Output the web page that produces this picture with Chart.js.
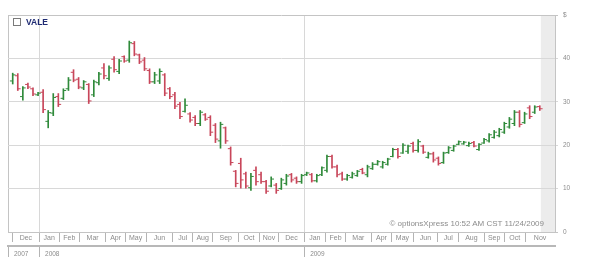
<!DOCTYPE html>
<html>
<head>
<meta charset="utf-8">
<script src="https://cdn.jsdelivr.net/npm/chart.js@4.4.1/dist/chart.umd.min.js"></script>
<style>
  body { margin: 0; background: #fff; }
  #wrap { position: relative; width: 600px; height: 263px; font-family: "Liberation Sans", Arial, sans-serif; }
  #title { position: absolute; left: 13px; top: 17px; line-height: 10px; font-size: 8.5px; font-weight: bold; color: #1f2b73; }
  #title span { display: inline-block; width: 6px; height: 6px; border: 1px solid #7a7a7a; margin-right: 5px; vertical-align: -1px; }
  #copy { position: absolute; right: 56px; top: 219px; line-height: 10px; font-size: 8px; color: #8c8c8c; white-space: nowrap; }
</style>
</head>
<body>
<div id="wrap">
  <canvas id="chart" width="600" height="263"></canvas>
  <div id="title"><span></span>VALE</div>
  <div id="copy">© optionsXpress 10:52 AM CST 11/24/2009</div>
</div>
<script>
// weekly bars, one per week from late Nov 2007 to 11/24/2009
const opens = [34.8,36.0,31.2,34.0,33.0,31.6,32.2,25.5,27.4,31.2,30.8,33.0,36.8,35.2,33.2,34.0,31.6,34.4,37.8,35.4,
  39.8,37.0,40.4,39.6,43.4,40.8,39.6,37.2,34.6,34.8,36.2,33.0,31.6,29.4,27.8,27.2,26.4,25.0,27.0,26.4,
  24.6,21.0,24.0,19.2,14.0,15.8,13.4,10.2,14.2,13.2,11.6,10.6,10.8,10.0,11.2,13.2,12.4,11.6,13.2,13.2,
  11.8,13.2,14.2,17.4,15.0,13.4,12.2,12.6,13.0,14.4,13.2,14.6,15.6,15.0,15.6,17.4,19.0,18.2,18.6,20.4,
  18.8,19.8,17.2,18.0,17.0,16.0,18.3,18.8,20.2,20.3,19.9,20.6,19.0,20.5,21.0,21.8,22.2,23.0,24.2,25.0,
  27.6,25.2,28.6,27.6,28.9];
const highs = [36.6,36.5,33.5,34.3,33.2,32.2,32.8,28.0,31.9,31.9,33.0,35.6,37.4,35.6,34.9,34.2,35.0,36.8,38.8,38.3,
  40.4,39.8,40.6,44.0,43.9,41.0,40.2,37.6,36.8,37.6,36.5,33.3,32.2,29.9,30.7,27.5,26.8,28.0,27.3,26.8,
  25.0,25.3,24.2,19.6,14.2,17.0,13.8,13.5,15.0,13.8,11.9,12.7,11.2,12.4,13.3,13.5,12.7,13.3,13.8,13.5,
  13.3,15.0,17.7,17.7,15.4,13.8,13.3,13.8,14.2,14.7,15.4,16.0,16.5,16.3,17.0,19.3,19.3,20.4,20.0,20.7,
  21.3,20.0,18.4,18.4,17.3,18.4,19.7,20.0,21.0,20.9,20.7,20.9,20.4,21.6,22.7,23.4,23.9,25.3,26.4,28.0,
  28.0,27.6,29.1,29.1,29.1];
const lows = [34.1,32.6,30.4,33.0,31.4,31.4,27.5,24.0,26.8,28.9,30.5,32.6,34.6,33.0,32.8,29.6,31.2,33.9,35.3,34.9,
  36.8,36.5,39.1,39.1,40.6,38.8,37.2,34.2,34.2,34.2,31.4,30.7,28.4,26.1,27.6,25.3,24.5,24.5,25.7,22.2,
  20.6,19.3,20.4,15.4,10.4,10.1,10.1,9.6,10.8,11.2,8.9,10.4,8.9,9.8,10.8,11.5,11.2,11.2,13.0,11.5,
  11.5,13.0,13.8,14.7,12.7,11.9,11.9,12.4,12.8,13.4,12.7,14.4,15.4,14.7,15.4,17.3,17.0,18.1,18.1,18.4,
  18.4,18.1,17.0,16.1,15.4,15.8,18.1,18.6,20.1,20.2,19.7,19.6,18.8,20.4,20.7,21.6,21.9,22.7,23.9,24.5,
  24.2,25.0,26.1,27.3,28.0];
const closes = [36.2,33.0,33.2,33.4,31.8,32.0,28.2,27.5,31.0,29.4,32.6,35.0,35.0,33.4,34.6,30.2,34.6,36.4,36.0,37.8,
  37.4,39.4,39.4,43.6,41.0,39.2,37.6,34.6,36.2,37.0,32.0,31.2,29.0,26.6,29.2,25.8,25.0,27.6,26.0,23.0,
  21.4,24.8,21.0,16.0,11.2,12.0,10.6,12.8,11.6,11.6,9.4,12.2,9.6,12.0,12.9,12.0,11.6,13.0,13.6,11.8,
  13.0,14.8,17.4,15.0,13.2,12.2,13.0,13.4,14.0,13.6,15.0,15.6,16.2,16.0,16.8,19.0,17.4,20.0,19.8,18.8,
  20.8,18.4,18.0,16.6,15.8,18.2,19.4,19.8,20.8,20.7,20.4,19.8,20.2,21.3,22.4,23.0,23.6,25.0,26.0,27.6,
  24.8,27.2,26.6,28.8,28.4];

// month boxes (position in weeks from the first bar), and year row
const monthNames = ['Dec','Jan','Feb','Mar','Apr','May','Jun','Jul','Aug','Sep','Oct','Nov',
  'Dec','Jan','Feb','Mar','Apr','May','Jun','Jul','Aug','Sep','Oct','Nov'];
const monthStarts = [0,5.19,9.19,13.13,18.4,22.2,26.3,31.6,35.5,39.45,44.6,48.6,
  52.5,57.5,61.7,65.7,70.7,74.8,79.0,83.9,88.0,93.0,97.0,101.1];
const yearNames = ['2007','2008','2009'];
const yearStarts = [-0.93,5.19,57.5];
const priceTicks = [0,10,20,30,40,50];

const xMin = -0.93, xMax = 107;
const futureFrom = 104.2;

const upColor = '#2f8a3a', downColor = '#c8465a';
const barColors = closes.map((c, i) => c >= opens[i] ? upColor : downColor);

// ticks for month axis: left edge, month boundaries, month label midpoints
const xTicks = [{v: xMin, label: '', kind: 'edge'}];
monthStarts.forEach((s, i) => {
  const e = i + 1 < monthStarts.length ? monthStarts[i + 1] : xMax;
  xTicks.push({v: s, label: '', kind: monthNames[i] === 'Jan' ? 'jan' : 'b'});
  xTicks.push({v: (s + e) / 2, label: monthNames[i], kind: 'm'});
});
xTicks.sort((a, b) => a.v - b.v);

const shadePlugin = {
  id: 'shade',
  beforeDraw(chart) {
    const {ctx, chartArea, scales} = chart;
    const x0 = scales.x.getPixelForValue(futureFrom);
    ctx.save();
    ctx.fillStyle = '#ececec';
    ctx.fillRect(x0, chartArea.top, chartArea.right - x0, chartArea.bottom - chartArea.top);
    ctx.restore();
  }
};

const ctx = document.getElementById('chart').getContext('2d');
const chart = new Chart(ctx, {
  type: 'bar',
  data: {
    datasets: [
      {
        label: 'VALE',
        data: highs.map((h, i) => ({x: i, y: [lows[i], h]})),
        backgroundColor: barColors,
        barThickness: 1,
        grouped: false,
        xAxisID: 'x', yAxisID: 'y'
      },
      {
        type: 'scatter',
        data: opens.map((o, i) => ({x: i - 0.3, y: o})),
        pointStyle: 'line',
        pointRadius: 1.3,
        pointBorderWidth: 1,
        pointBorderColor: barColors,
        xAxisID: 'x', yAxisID: 'y'
      },
      {
        type: 'scatter',
        data: closes.map((c, i) => ({x: i + 0.3, y: c})),
        pointStyle: 'line',
        pointRadius: 1.3,
        pointBorderWidth: 1,
        pointBorderColor: barColors,
        xAxisID: 'x', yAxisID: 'y'
      }
    ]
  },
  options: {
    responsive: false,
    animation: false,
    events: [],
    layout: { padding: { left: 8, top: 15, right: 0, bottom: 3 } },
    plugins: { legend: { display: false }, tooltip: { enabled: false } },
    scales: {
      x: {
        type: 'linear', position: 'bottom', min: xMin, max: xMax, offset: false,
        afterBuildTicks: s => { s.ticks = xTicks.map(t => ({value: t.v})); },
        afterFit: s => { s.height = 14; },
        ticks: {
          autoSkip: false, maxRotation: 0, padding: -8,
          font: { family: 'Liberation Sans, Arial', size: 7 }, color: '#8c8c8c',
          callback: (v, i) => xTicks[i].label
        },
        grid: {
          offset: false, tickLength: 10,
          color: c => { const k = xTicks[c.index] && xTicks[c.index].kind; return k === 'jan' ? '#d8d8d8' : k === 'edge' ? '#c4c4c4' : 'transparent'; },
          tickColor: c => { const k = xTicks[c.index] && xTicks[c.index].kind; return (k === 'b' || k === 'jan') ? '#b4b4b4' : 'transparent'; }
        },
        border: { display: true, color: '#c4c4c4' }
      },
      x2: {
        type: 'linear', position: 'bottom', min: xMin, max: xMax, offset: false,
        afterBuildTicks: s => { s.ticks = yearStarts.map(v => ({value: v})); },
        afterFit: s => { s.height = 14; },
        ticks: {
          autoSkip: false, maxRotation: 0, padding: -7, align: 'start', labelOffset: 6,
          font: { family: 'Liberation Sans, Arial', size: 6.5 }, color: '#8c8c8c',
          callback: (v, i) => yearNames[i]
        },
        grid: { offset: false, drawOnChartArea: false, tickLength: 11, tickColor: '#b4b4b4' },
        border: { display: true, color: '#b8b8b8', width: 2 }
      },
      y: {
        position: 'right', min: 0, max: 50,
        afterBuildTicks: s => { s.ticks = priceTicks.map(v => ({value: v})); },
        afterFit: s => { s.width = 45; },
        ticks: {
          padding: 5,
          font: { family: 'Liberation Sans, Arial', size: 6.5 }, color: '#8c8c8c',
          callback: v => v === 50 ? '$' : String(v)
        },
        grid: {
          tickLength: 3,
          color: c => (c.tick && (c.tick.value === 0 || c.tick.value === 50)) ? '#c4c4c4' : '#d8d8d8'
        },
        border: { display: true, color: '#c4c4c4' }
      }
    }
  },
  plugins: [shadePlugin]
});
</script>
</body>
</html>
